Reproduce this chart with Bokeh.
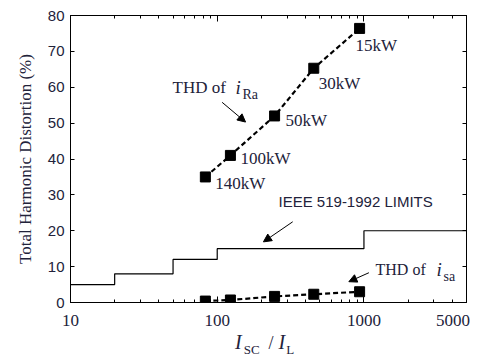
from bokeh.plotting import figure
from bokeh.layouts import column
from bokeh.models import LogAxis, LinearAxis, FixedTicker, Range1d, Label, Arrow, NormalHead, Div
from bokeh.embed import file_html
from bokeh.resources import INLINE

# ---- data ----
ratio = [83, 123, 246, 455, 934]            # I_SC / I_L
thd_ra = [35.0, 41.0, 52.0, 65.3, 76.4]     # THD of i_Ra (%)
thd_sa = [0.4, 0.7, 1.7, 2.3, 3.0]          # THD of i_sa (%)
power_labels = ["140kW", "100kW", "50kW", "30kW", "15kW"]
limit_edges = [10, 20, 50, 100, 1000, 5000]  # IEEE 519-1992 limit steps
limit_values = [5, 8, 12, 15, 20]
x_ticks = [10, 100, 1000, 5000]
x_tick_labels = ["10", "100", "1000", "5000"]
x_minor = [20, 30, 40, 50, 60, 70, 80, 90,
           200, 300, 400, 500, 600, 700, 800, 900,
           2000, 3000, 4000]
y_ticks = [0, 10, 20, 30, 40, 50, 60, 70, 80]

SERIF = "Liberation Serif"
SANS = "Liberation Sans"
TXT = "#22223a"
NBSP = "\u00a0"

p = figure(width=478, height=332, x_axis_type="log",
           x_range=Range1d(10, 5000), y_range=Range1d(0, 80),
           output_backend="svg", toolbar_location=None,
           min_border_left=70, min_border_right=12,
           min_border_top=15, min_border_bottom=29)
p.xgrid.visible = False
p.ygrid.visible = False
p.outline_line_color = "black"
p.outline_line_width = 1
p.background_fill_color = "white"
p.border_fill_color = "white"

xa = p.xaxis[0]
xa.ticker = FixedTicker(ticks=x_ticks, minor_ticks=x_minor)
overrides = {t: s for t, s in zip(x_ticks, x_tick_labels)}
# last label sits left of its tick, inside the canvas (padding keeps visible digits left)
overrides[x_ticks[-1]] = x_tick_labels[-1] + NBSP * 2
xa.major_label_overrides = overrides
xa.major_label_text_font = SERIF
xa.major_label_text_font_size = "17px"
xa.major_label_text_color = TXT
xa.major_label_standoff = 8
xa.major_tick_in = 6
xa.major_tick_out = 0
xa.minor_tick_in = 3
xa.minor_tick_out = 0
xa.axis_line_color = "black"

ya = p.yaxis[0]
ya.ticker = FixedTicker(ticks=y_ticks)
ya.major_label_text_font = SANS
ya.major_label_text_font_size = "15px"
ya.major_label_text_color = TXT
ya.major_label_standoff = 6
ya.major_tick_in = 4
ya.major_tick_out = 0
ya.minor_tick_in = 0
ya.minor_tick_out = 0
ya.axis_label = "Total Harmonic Distortion (%)"
ya.axis_label_text_font = SERIF
ya.axis_label_text_font_style = "normal"
ya.axis_label_text_font_size = "17px"
ya.axis_label_text_color = TXT
ya.axis_label_standoff = 10

top = LogAxis(ticker=FixedTicker(ticks=x_ticks, minor_ticks=x_minor),
              major_label_text_font_size="1px", major_label_text_color=None,
              major_label_standoff=0,
              major_tick_in=6, major_tick_out=0, minor_tick_in=3, minor_tick_out=0)
p.add_layout(top, "above")
right = LinearAxis(ticker=FixedTicker(ticks=y_ticks),
                   major_label_text_font_size="1px", major_label_text_color=None,
                   major_label_standoff=0,
                   major_tick_in=4, major_tick_out=0, minor_tick_in=0, minor_tick_out=0)
p.add_layout(right, "right")

# IEEE limits (step line)
p.step(limit_edges, limit_values + [limit_values[-1]], mode="after",
       line_color="black", line_width=1.2)

# THD series
for ys in (thd_ra, thd_sa):
    p.line(ratio, ys, line_color="black", line_width=2.2, line_dash="5 3")
    p.scatter(ratio, ys, marker="square", size=10, fill_color="black", line_color="black")

# power labels next to the i_Ra points
label_offsets = [(10, -7), (10, -3), (11, -5), (5, -15), (-4, -17)]
for xv, yv, txt, (dx, dy) in zip(ratio, thd_ra, power_labels, label_offsets):
    p.add_layout(Label(x=xv, y=yv, text=txt, x_offset=dx, y_offset=dy,
                       text_font=SERIF, text_font_size="17px", text_color=TXT,
                       text_baseline="middle", text_align="left"))

def screen_text(fig, x, y, text, size, font=SERIF, style="normal", align="left", baseline="alphabetic"):
    fig.add_layout(Label(x=x, y=y, x_units="screen", y_units="screen", text=text,
                         text_font=font, text_font_size=size, text_font_style=style,
                         text_color=TXT, text_align=align, text_baseline=baseline))

# THD of i_Ra
screen_text(p, 102, 215, "THD of", "17px")
screen_text(p, 165, 215, "i", "19px", style="italic")
screen_text(p, 172, 208, "Ra", "14px")
# IEEE label
screen_text(p, 208, 101, "IEEE 519-1992 LIMITS", "15px", font=SANS, baseline="middle")
# THD of i_sa
screen_text(p, 305, 33, "THD of", "16px")
screen_text(p, 366, 33, "i", "19px", style="italic")
screen_text(p, 373, 26, "sa", "14px")

# arrows
head = dict(size=8, fill_color="black", line_color="black")
for (x0, y0, x1, y1) in [(108, 55.8, 156, 50.3), (327, 22.5, 206.5, 16.9), (1081, 8.3, 789, 5.8)]:
    p.add_layout(Arrow(end=NormalHead(**head), x_start=x0, y_start=y0, x_end=x1, y_end=y1,
                       line_color="black", line_width=1))

# x-axis title  I_SC / I_L  as real text beneath the plot
xtitle_html = (
    '<div style="font-family:\'Liberation Serif\'; color:%s; white-space:nowrap; '
    'padding-left:235px; line-height:20px; height:24px;">'
    '<span style="font-style:italic; font-size:20px;">I</span>'
    '<span style="font-size:13px; position:relative; top:5px; margin-left:2px;">SC</span>'
    '<span style="font-size:18px; margin-left:9px;">/</span>'
    '<span style="font-style:italic; font-size:20px; margin-left:5px;">I</span>'
    '<span style="font-size:13px; position:relative; top:5px; margin-left:1px;">L</span>'
    '</div>' % TXT
)
xtitle = Div(text=xtitle_html, width=478, height=24, margin=0)

layout = column(p, xtitle, spacing=0)
open("out.html", "w").write(file_html(layout, INLINE))
